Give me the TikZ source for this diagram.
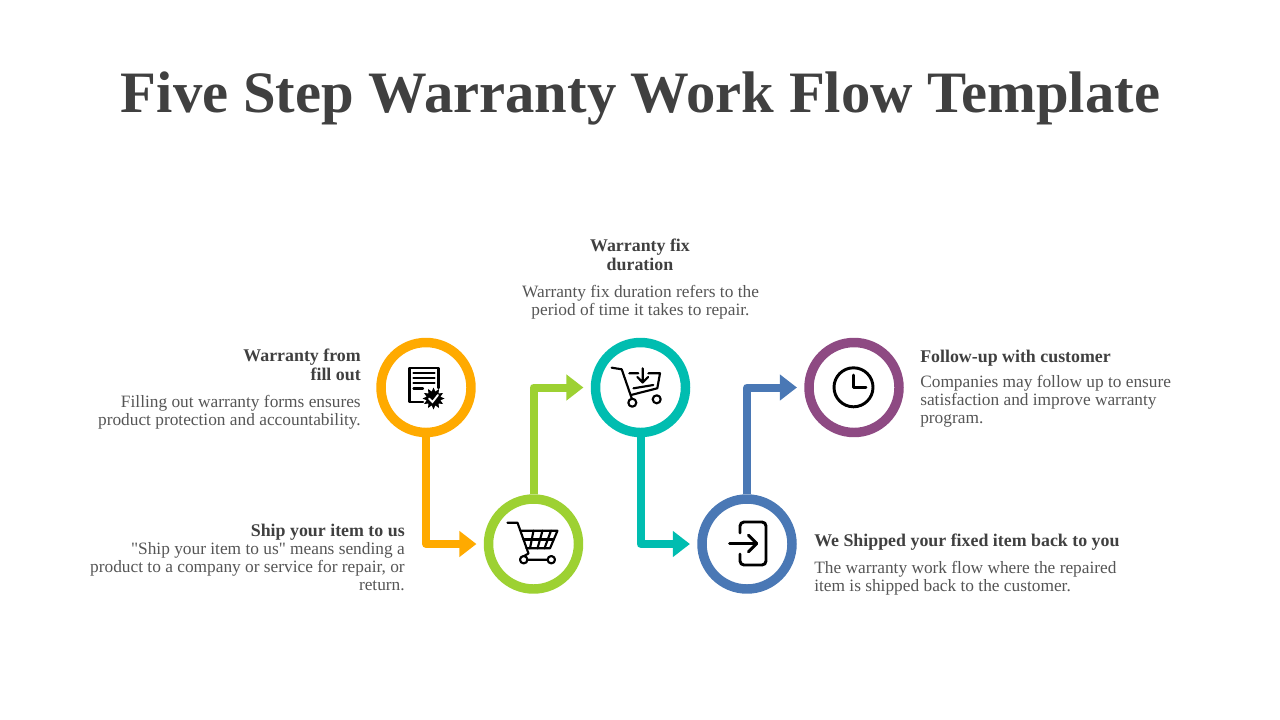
\documentclass[tikz,border=0pt]{standalone}
\usepackage{fontspec}
\setmainfont{Liberation Serif}
\newfontfamily\quotefont{Liberation Serif}
\usetikzlibrary{arrows.meta,shapes.geometric}
\definecolor{titlegray}{HTML}{404040}
\definecolor{bodygray}{HTML}{555555}
\definecolor{stepOrange}{HTML}{FFAA00}
\definecolor{stepGreen}{HTML}{9DD132}
\definecolor{stepTeal}{HTML}{00BDB0}
\definecolor{stepBlue}{HTML}{4A78B5}
\definecolor{stepPurple}{HTML}{8E4A83}
\begin{document}
\begin{tikzpicture}[x=0.75pt,y=-0.75pt,
    ring/.style={circle,draw=#1,line width=7.1pt,fill=white,minimum size=67.5pt,inner sep=0pt},
    flow/.style={draw=#1,line width=6pt,line join=round,shorten >=5.5pt,
      -{Triangle[length=12.75pt,width=18.75pt,fill=#1]}},
    heading/.style={text=titlegray,font=\fontsize{13.4}{14.25}\selectfont\bfseries,inner sep=0pt},
    bodytext/.style={text=bodygray,font=\fontsize{13}{13.5}\selectfont,inner sep=0pt},
    icon/.style={draw=black,line width=1.6pt,line cap=round,line join=round},
  ]

    \useasboundingbox (0,0) rectangle (1280,720);

    \node[text=titlegray,font=\fontsize{44}{46}\selectfont\bfseries,inner sep=0pt,anchor=base] (title) at (640.5,113)
    {Five Step Warranty Work Flow Template};

    \node[ring=stepOrange] (orderstep) at (426,387.5) {};
    \node[ring=stepGreen] (shipstep) at (533.5,544) {};
    \node[ring=stepTeal] (fixstep) at (640.5,387.5) {};
    \node[ring=stepBlue] (backstep) at (747,544) {};
    \node[ring=stepPurple] (followstep) at (854,387.5) {};

    \draw[flow=stepOrange] (orderstep.south) |- (shipstep.west);
    \draw[flow=stepGreen] (shipstep.north) |- (fixstep.west);
    \draw[flow=stepTeal] (fixstep.south) |- (backstep.west);
    \draw[flow=stepBlue] (backstep.north) |- (followstep.west);

    \node[heading,align=right,anchor=east] (orderhead) at (361,365)
    {Warranty from \\
      fill out};
    \node[bodytext,align=right,anchor=east] (ordertext) at (361,412)
    {Filling out warranty forms ensures \\
      product protection and accountability.};

    \node[heading,anchor=east] (shiphead) at (405,532) {Ship your item to us};
    \node[bodytext,align=right,anchor=east] (shiptext) at (405,567)
    {\quotefont"Ship your item to us" means sending a \\
      product to a company or service for repair, or \\
      return.};

    \node[heading,align=center] (fixhead) at (640,255)
    {Warranty fix \\
      duration};
    \node[bodytext,align=center] (fixtext) at (640.5,302)
    {Warranty fix duration refers to the \\
      period of time it takes to repair.};

    \node[heading,anchor=west] (backhead) at (814,542.5) {We Shipped your fixed item back to you};
    \node[bodytext,align=left,anchor=west] (backtext) at (814,578)
    {The warranty work flow where the repaired \\
      item is shipped back to the customer.};

    \node[heading,anchor=west] (followhead) at (920,358) {Follow-up with customer};
    \node[bodytext,align=left,anchor=west] (followtext) at (920,401.5)
    {Companies may follow up to ensure \\
      satisfaction and improve warranty \\
      program.};

    \draw[icon] (423,402) -- (409.5,402) -- (409.5,368) -- (438.5,368) -- (438.5,388);
    \draw[icon] (413.5,372.7) -- (434.5,372.7) (413.5,378) -- (434.5,378) (413.5,383.3) -- (434.5,383.3) (413.5,388.5) -- (423,388.5);
    \node[star,star points=12,star point ratio=1.55,fill=black,minimum size=16.5pt,inner sep=0pt] (badge) at (433.5,398.5) {};
    \draw[draw=white,line width=1.4pt,line cap=round] (429,398.5) -- (432.5,402) -- (438,395);

    \draw[icon] (507.5,522.7) -- (517.5,522.7) -- (528.5,553.5) -- (523.7,556.2);
    \draw[icon] (520.7,530.7) -- (557.5,530.7) -- (550,548.3) -- (526.5,548.3);
    \draw[icon] (523.5,539.5) -- (553.8,539.5);
    \draw[icon] (533.5,530.7) -- (530,548.3) (542.5,530.7) -- (537.5,548.3) (551,530.7) -- (544.5,548.3);
    \draw[icon] (523.7,559.7) circle (3.7) (551.3,559.7) circle (3.7) (527.4,559.7) -- (547.6,559.7);

    \draw[icon] (611.7,367.7) -- (621.7,369.3) -- (631.7,398.3);
    \draw[icon] (629.3,373.3) -- (638.3,373.3) (648.3,373.3) -- (660,373.3) -- (657.3,388.3) -- (631,395);
    \draw[icon] (633.5,388.3) -- (653.3,385);
    \draw[icon] (642.7,368.3) -- (642.7,382) (637.3,377) -- (642.7,382.5) -- (648,377);
    \draw[icon] (632.3,402.7) circle (4) (656.7,399.3) circle (4);

    \draw[icon,line width=2.2pt,rounded corners=3pt] (740,533) -- (740,522) -- (766,522) -- (766,565) -- (740,565) -- (740,554);
    \draw[icon,line width=2.2pt] (729.5,543.5) -- (756.5,543.5) (748.5,535.2) -- (756.7,543.5) -- (748.5,551.8);

    \draw[icon,line width=2.2pt] (853.5,387.3) circle (19.5);
    \draw[icon,line width=2.2pt] (853.5,375) -- (853.5,387.3) -- (866,387.3);

  \end{tikzpicture}
\end{document}
